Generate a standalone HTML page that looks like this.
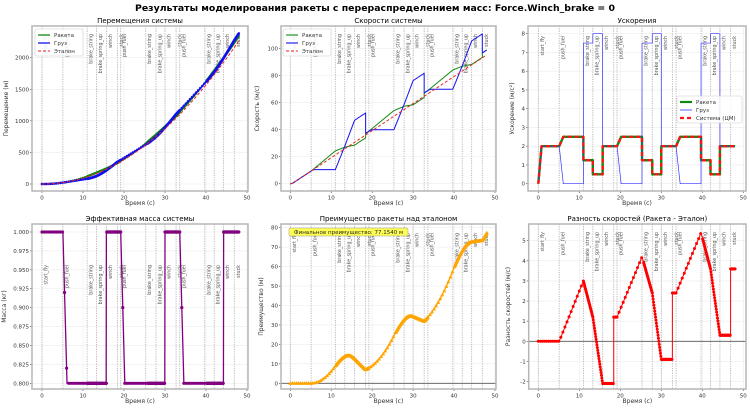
<!DOCTYPE html>
<html><head><meta charset="utf-8">
<style>
html,body{margin:0;padding:0;background:#fff;}
svg{display:block;font-family:"DejaVu Sans","Liberation Sans",sans-serif;}
</style></head>
<body>
<svg id="s" width="750" height="411" viewBox="0 0 750 411" xmlns="http://www.w3.org/2000/svg">
<text x="375" y="11" text-anchor="middle" font-weight="bold" font-size="9" textLength="480" lengthAdjust="spacingAndGlyphs">Результаты моделирования ракеты с перераспределением масс: Force.Winch_brake = 0</text>
</svg>
<script>
const P=[5.1,19.2,33.6],BS=[11,25.3,39.7],BSU=[13.3,27.8,42],W=[15.7,30,44.3],ST=[18.4,32.7,46.9];
const EV=[[0,'start_fly'],[5.1,'push_fuel'],[11,'brake_string'],[13.3,'brake_spring_up'],[15.7,'winch'],[18.4,'stuck'],[19.2,'push_fuel'],[25.3,'brake_string'],[27.8,'brake_spring_up'],[30,'winch'],[32.7,'stuck'],[33.6,'push_fuel'],[39.7,'brake_string'],[42,'brake_spring_up'],[44.3,'winch'],[46.9,'stuck']];
function cyc(t){let k=-1;for(let i=0;i<3;i++)if(t>=P[i])k=i;return k;}
function aR(t){if(t<0.8)return 2*t/0.8;const k=cyc(t);if(k<0)return 2;
 if(t<P[k]+1)return 2+0.5*(t-P[k]);if(t<BS[k])return 2.5;if(t<BSU[k])return 1.25;if(t<W[k])return 0.5;return 2;}
function aRi(t){if(t<0.8)return 2*t/0.8;const k=cyc(t);if(k<0)return 2;
 if(t<BS[k])return 2+3/(BS[k]-P[k]);if(t<BSU[k])return 2-1.8/(BSU[k]-BS[k]);if(t<W[k])return 2-3.3/(W[k]-BSU[k]);return 2;}
function aC(t){if(t<0.8)return 2*t/0.8;const k=cyc(t);if(k<0)return 2;
 if(t<P[k]+1)return 2-2*(t-P[k]);if(t<BS[k])return 0;if(t<BSU[k])return 7.5;if(t<W[k])return 8;return 2;}
function aF(t){return t<0.8?2*t/0.8:2;}
function mass(t){const k=cyc(t);if(k<0)return 1;if(t<P[k]+1)return Math.max(0.8,1-0.2*(t-P[k]));if(t<W[k])return 0.8;return 1;}
let pts=[];let vR=0,vC=0,vF=0,xR=0,xC=0,xF=0;const dt=0.01;let si=0;
for(let i=0;i<=4800;i++){const t=i*dt;
 if(si<3&&t>=ST[si]){pts.push({t,vR,vC,vF,xR,xC,xF});vR+=3.3;vC=vR;si++;}
 pts.push({t,vR,vC,vF,xR,xC,xF});
 vR+=aRi(t)*dt;vC+=aC(t)*dt;vF+=aF(t)*dt;xR+=vR*dt;xC+=vC*dt;xF+=vF*dt;}
function dense(t){for(let k=0;k<3;k++){if(t>=BS[k]&&t<(k<2?P[k+1]:99))return true;}return false;}
function sampleAt(t){let best=pts[0];for(const p of pts){if(p.t<=t+1e-9)best=p;else break;}return best;}
let mk=[];{let t=0;while(t<=48.0001){mk.push(t);t+=dense(t)?0.1:0.5;}}
const mkP=mk.map(sampleAt);
let out='';
function panel(o){
 const [l,tp,r,b]=o.box;const sx=v=>o.x0+(o.x50-o.x0)*v/50;
 const sy=v=>o.yA[1]+(v-o.yA[0])*(o.yB[1]-o.yA[1])/(o.yB[0]-o.yA[0]);
 const id='c'+Math.round(l)+Math.round(tp);
 out+=`<clipPath id="${id}"><rect x="${l}" y="${tp}" width="${r-l}" height="${b-tp}"/></clipPath>`;
 out+=`<text x="${(l+r)/2}" y="${tp-3}" text-anchor="middle" font-size="7">${o.title}</text>`;
 for(let v=0;v<=50;v+=10){const x=sx(v);out+=`<line x1="${x}" y1="${tp}" x2="${x}" y2="${b}" stroke="#ececec" stroke-width="0.6"/>`;
  out+=`<line x1="${x}" y1="${b}" x2="${x}" y2="${b+2}" stroke="#444" stroke-width="0.6"/><text x="${x}" y="${b+8.5}" text-anchor="middle" font-size="5.5" fill="#333">${v}</text>`;}
 for(const v of o.yt){const y=sy(v);out+=`<line x1="${l}" y1="${y}" x2="${r}" y2="${y}" stroke="#ececec" stroke-width="0.6"/>`;
  out+=`<line x1="${l-2}" y1="${y}" x2="${l}" y2="${y}" stroke="#444" stroke-width="0.6"/><text x="${l-3}" y="${y+2}" text-anchor="end" font-size="5.5" fill="#333">${o.fmt?o.fmt(v):v}</text>`;}
 out+=`<text x="${(l+r)/2}" y="${b+14}" text-anchor="middle" font-size="6" fill="#333">Время (с)</text>`;
 out+=`<text transform="translate(${o.ylx},${(tp+b)/2}) rotate(-90)" text-anchor="middle" font-size="6" fill="#333">${o.ylabel}</text>`;
 for(const [t,n] of EV){const x=sx(t);out+=`<line x1="${x}" y1="${tp}" x2="${x}" y2="${b}" stroke="#aaa" stroke-width="0.8" stroke-dasharray="1.2,1.2"/>`;
  out+=`<text transform="translate(${x+5.5},${o.lt}) rotate(-90)" text-anchor="end" font-size="4.8" fill="#555">${n}</text>`;}
 if(o.zero){out+=`<line x1="${l}" y1="${sy(0)}" x2="${r}" y2="${sy(0)}" stroke="#555" stroke-width="0.8"/>`;}
 out+=`<g clip-path="url(#${id})">`;
 for(const s of o.series){
  const d=s.data.map((p,i)=>(i?'L':'M')+sx(p[0]).toFixed(2)+','+sy(p[1]).toFixed(2)).join('');
  out+=`<path d="${d}" fill="none" stroke="${s.c}" stroke-width="${s.w}" ${s.dash?`stroke-dasharray="${s.dash}"`:''} stroke-linejoin="round"/>`;
  if(s.m){for(const p of s.m){const x=sx(p[0]),y=sy(p[1]);
   if(s.mt==='tri')out+=`<path d="M${x},${y-2.2}L${x+2},${y+1.4}L${x-2},${y+1.4}Z" fill="${s.c}"/>`;
   else out+=`<circle cx="${x}" cy="${y}" r="${s.mr||1.6}" fill="${s.c}"/>`;}}
 }
 out+=`</g><rect x="${l}" y="${tp}" width="${r-l}" height="${b-tp}" fill="none" stroke="#b5b5b5" stroke-width="1.5"/>`;
 if(o.legend){const [lx,ly,lw,items]=o.legend;const lh=items.length*8+3;
  out+=`<rect x="${lx}" y="${ly}" width="${lw}" height="${lh}" rx="2" fill="#fff" fill-opacity="0.85" stroke="#ccc" stroke-width="0.6"/>`;
  items.forEach((it,i)=>{const y=ly+6+i*8;out+=`<line x1="${lx+3}" y1="${y}" x2="${lx+15}" y2="${y}" stroke="${it[1]}" stroke-width="${it[2]}" ${it[3]?`stroke-dasharray="${it[3]}"`:''}/><text x="${lx+19}" y="${y+2}" font-size="5.5" fill="#333">${it[0]}</text>`;});}
}
const stepPts=pts.filter((p,i)=>i%5==0||i>0&&pts[i-1].t===p.t||i<pts.length-1&&pts[i+1].t===p.t);
panel({box:[32,26,248,191],x0:42,x50:247,yA:[0,184],yB:[2000,57.7],yt:[0,500,1000,1500,2000],title:'Перемещения системы',ylabel:'Перемещение (м)',ylx:8,lt:34,
 series:[{data:stepPts.map(p=>[p.t,p.xR]),c:'#118811',w:1.3,m:mkP.map(p=>[p.t,p.xR]),mr:1.1},
 {data:stepPts.map(p=>[p.t,p.xC]),c:'#1111ee',w:1.3,m:mkP.map(p=>[p.t,p.xC]),mr:1.3},
 {data:stepPts.map(p=>[p.t,p.xF]),c:'#ee2222',w:1,dash:'3,2'}],
 legend:[35,29,48,[['Ракета','#118811',1.3],['Груз','#1111ee',1.3],['Эталон','#ee2222',1,'3,2']]]});
panel({box:[281,26,496,191],x0:290.3,x50:495,yA:[0,183.7],yB:[100,48.3],yt:[0,20,40,60,80,100],title:'Скорости системы',ylabel:'Скорость (м/с)',ylx:259,lt:34,
 series:[{data:stepPts.map(p=>[p.t,p.vR]),c:'#118811',w:1},
 {data:stepPts.map(p=>[p.t,p.vC]),c:'#1111ee',w:1},
 {data:stepPts.map(p=>[p.t,p.vF]),c:'#ee2222',w:1,dash:'3,2'}],
 legend:[283,29,48,[['Ракета','#118811',1.1],['Груз','#1111ee',1.1],['Эталон','#ee2222',1,'3,2']]]});
const accR=[],accC=[];for(let i=0;i<=4800;i++){const t=i*dt;accR.push([t,aR(t)]);accC.push([t,aC(t)]);}
panel({box:[528,26,746,191],x0:538.3,x50:743.3,yA:[0,183.7],yB:[8,33.7],yt:[0,1,2,3,4,5,6,7,8],title:'Ускорения',ylabel:'Ускорение (м/с²)',ylx:514,lt:36,
 series:[{data:accR,c:'#118811',w:2.4},{data:accC,c:'#3333ff',w:0.7},{data:accR,c:'#ff1111',w:2.4,dash:'4,3'}],
 legend:[677,96,65,[['Ракета','#118811',2.2],['Груз','#3333ff',0.8],['Система (ЦМ)','#ff1111',2.2,'4,3']]]});
const mP=[];for(let i=0;i<=4800;i+=5){const t=i*dt;mP.push([t,mass(t)]);}
panel({box:[32,224,248,389],x0:42,x50:247,yA:[1,232],yB:[0.8,383.3],yt:[0.8,0.825,0.85,0.875,0.9,0.925,0.95,0.975,1.0],fmt:v=>v.toFixed(3),title:'Эффективная масса системы',ylabel:'Масса (кг)',ylx:6,lt:265,
 series:[{data:mP,c:'#800080',w:1.3,m:mk.map(t=>[t,mass(t)]),mr:1.6}]});
panel({box:[281,224,496,389],x0:290.3,x50:495,yA:[0,383.3],yB:[80,227.7],yt:[0,10,20,30,40,50,60,70,80],title:'Преимущество ракеты над эталоном',ylabel:'Преимущество (м)',ylx:263,lt:233,zero:1,
 series:[{data:stepPts.map(p=>[p.t,p.xR-p.xF]),c:'#ffa500',w:1.3,m:mkP.map(p=>[p.t,p.xR-p.xF]),mt:'tri'}]});
out+=`<rect x="289" y="228" width="119" height="8" rx="1.5" fill="#ffff55" stroke="#999" stroke-width="0.5"/><text x="348.5" y="234" text-anchor="middle" font-size="5.5" fill="#222">Финальное преимущество: 77.1540 м</text>`;
panel({box:[528.7,224,746,389],x0:538.3,x50:743.3,yA:[0,341.3],yB:[5,240.7],yt:[-2,-1,0,1,2,3,4,5],title:'Разность скоростей (Ракета - Эталон)',ylabel:'Разность скоростей (м/с)',ylx:510,lt:232,zero:1,
 series:[{data:stepPts.map(p=>[p.t,p.vR-p.vF]),c:'#ff0000',w:1,m:mkP.map(p=>[p.t,p.vR-p.vF]),mr:1.5}]});
document.getElementById('s').insertAdjacentHTML('beforeend',out);
</script>
</body></html>
